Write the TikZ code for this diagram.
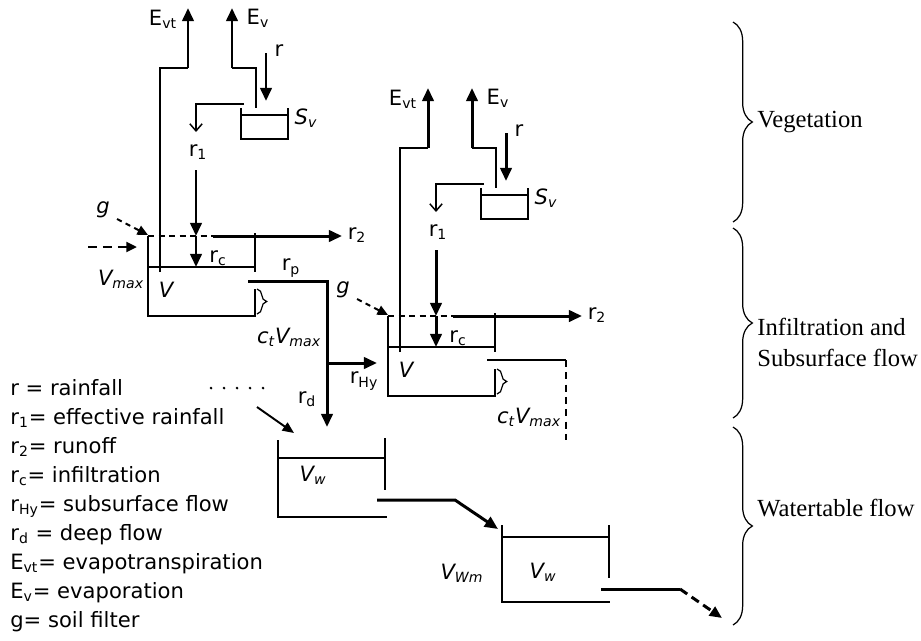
\documentclass[tikz,border=0pt]{standalone}
\usepackage{fontspec}
\setmainfont{DejaVu Sans}
\newfontfamily\zonefont{Liberation Serif}
\usetikzlibrary{arrows.meta,decorations.pathreplacing}

\newcommand\sbs[1]{\textsubscript{#1}}

\begin{document}
\begin{tikzpicture}[x=0.2mm, y=-0.2mm,
  every node/.style={font=\fontsize{12}{14}\selectfont, inner sep=0pt},
  wall/.style={line width=0.85pt},
  lvl/.style={line width=0.85pt, dash pattern=on 3.5pt off 2.5pt},
  flow/.style={line width=1.7pt, -{Triangle[length=7.5pt,width=6.5pt]}},
  spill/.style={line width=0.85pt, -{Straight Barb[length=4pt,width=7pt]}},
  seep/.style={line width=1.1pt, dash pattern=on 3pt off 2.5pt, -{Triangle[length=6pt,width=5.5pt]}},
  curl/.style={line width=0.7pt, decorate, decoration={brace, amplitude=5.5pt}},
  zone/.style={line width=0.7pt, decorate, decoration={brace, amplitude=11pt, aspect=0.5}},
  zonetext/.style={font=\zonefont\fontsize{14}{17.6}\selectfont, anchor=west, align=left}]
\useasboundingbox (0,0) rectangle (921,640);

% vegetation + soil units
\foreach \u/\sx/\sy in {L/148/236, R/388/316}{
\begin{scope}[shift={(\sx,\sy)}]
  \draw[lvl] (0,0) -- (107,0);
  \draw[wall] (0,0) -- (0,80) -- (107,80) -- (107,53);
  \draw[wall] (107,-3) -- (107,36);
  \draw[wall] (0,31) -- (107,31);
  \draw[curl] (109,53) -- (109,78);
  \draw[wall] (93,-128) -- (93,-97) -- (140,-97) -- (140,-128);
  \draw[wall] (93,-121) -- (140,-121);
  \draw[wall] (12,36) -- (12,-168) -- (40,-168);
  \draw[flow] (40,-168) -- (40,-228);
  \draw[flow] (84,-168) -- (84,-228);
  \draw[wall] (84,-168) -- (108,-168) -- (108,-128);
  \draw[flow] (118,-183) -- (118,-135);
  \draw[spill] (96,-132) -- (48,-132) -- (48,-104);
  \draw[flow] (48,-66) -- (48,0);
  \draw[flow] (48,0) -- (48,31);
  \draw[flow] (65,0) -- (194,0);
  \draw[seep] (-31,-17) -- (0,-1);
  \node (Evt\u) at (15,-217) {E\sbs{vt}};
  \node (Ev\u) at (110,-218) {E\sbs{v}};
  \node (r\u) at (131,-185) {r};
  \node (Sv\u) at (158,-118) {\itshape S\sbs{v}};
  \node (ra\u) at (50,-84) {r\sbs{1}};
  \node (rb\u) at (209,-1) {r\sbs{2}};
  \node (rc\u) at (70,22) {r\sbs{c}};
  \node (V\u) at (18,54) {\itshape V};
  \node (ct\u) at (141,101) {\itshape c\sbs{t}V\sbs{max}};
  \node (g\u) at (-45,-26) {\itshape g};
\end{scope}}

% left unit: inflow and outlet
\draw[seep, line width=1.6pt, dash pattern=on 5pt off 3.5pt] (88,247) -- (137,247);
\node (Vmax) at (121,279) {\itshape V\sbs{max}};
\draw[flow] (248,281) -- (327,281) -- (327,427);
\draw[flow] (327,363) -- (377,363);
\node (rp) at (291,268) {r\sbs{p}};
\node (rHy) at (364,381) {r\sbs{Hy}};
\node (rd) at (307,399) {r\sbs{d}};

% right unit: outlet
\draw[line width=1.5pt] (487,360) -- (566,360);
\draw[line width=1.5pt, dash pattern=on 4pt off 3pt] (566,360) -- (566,440);

% watertable stores
\foreach \d in {0,...,4} \fill (211+13*\d,388) circle[radius=0.85pt];
\draw[line width=1.1pt, -{Triangle[length=6.5pt,width=5.5pt]}] (257,407) -- (294,433);
\draw[wall] (278,440) -- (278,517) -- (387,517);
\draw[wall] (385,438) -- (385,490);
\draw[wall] (278,458) -- (385,458);
\node (Vw1) at (313,475) {\itshape V\sbs{w}};
\draw[flow] (377,500) -- (455,500) -- (498,529);
\draw[wall] (502,525) -- (502,602) -- (610,602);
\draw[wall] (609,525) -- (609,578);
\draw[wall] (502,537) -- (609,537);
\node (Vw2) at (543,572) {\itshape V\sbs{w}};
\node (Vwm) at (462,573) {\itshape V\sbs{Wm}};
\draw[line width=1.7pt] (601,589) -- (680,589);
\draw[line width=1.7pt, dash pattern=on 5pt off 3pt, -{Triangle[length=7pt,width=6pt]}] (680,589) -- (722,618);

% legend
\foreach \txt [count=\i] in {r = rainfall, {r\sbs{1}= effective rainfall}, {r\sbs{2}= runoff},
  {r\sbs{c}= infiltration}, {r\sbs{Hy}= subsurface flow}, {r\sbs{d} = deep flow},
  {E\sbs{vt}= evapotranspiration}, {E\sbs{v}= evaporation}, g= soil filter}
  \node[anchor=base west] (leg\i) at (10,{395+29.1*(\i-1)}) {\txt};

% zones
\draw[zone] (733,22) -- (733,222);
\draw[zone] (733,228) -- (733,418);
\draw[zone] (733,427) -- (733,625);
\node[zonetext] (veg) at (757,122) {Vegetation};
\node[zonetext] (inf) at (757,342) {Infiltration and\\Subsurface flow};
\node[zonetext] (wt) at (757,508) {Watertable flow};
\end{tikzpicture}
\end{document}
